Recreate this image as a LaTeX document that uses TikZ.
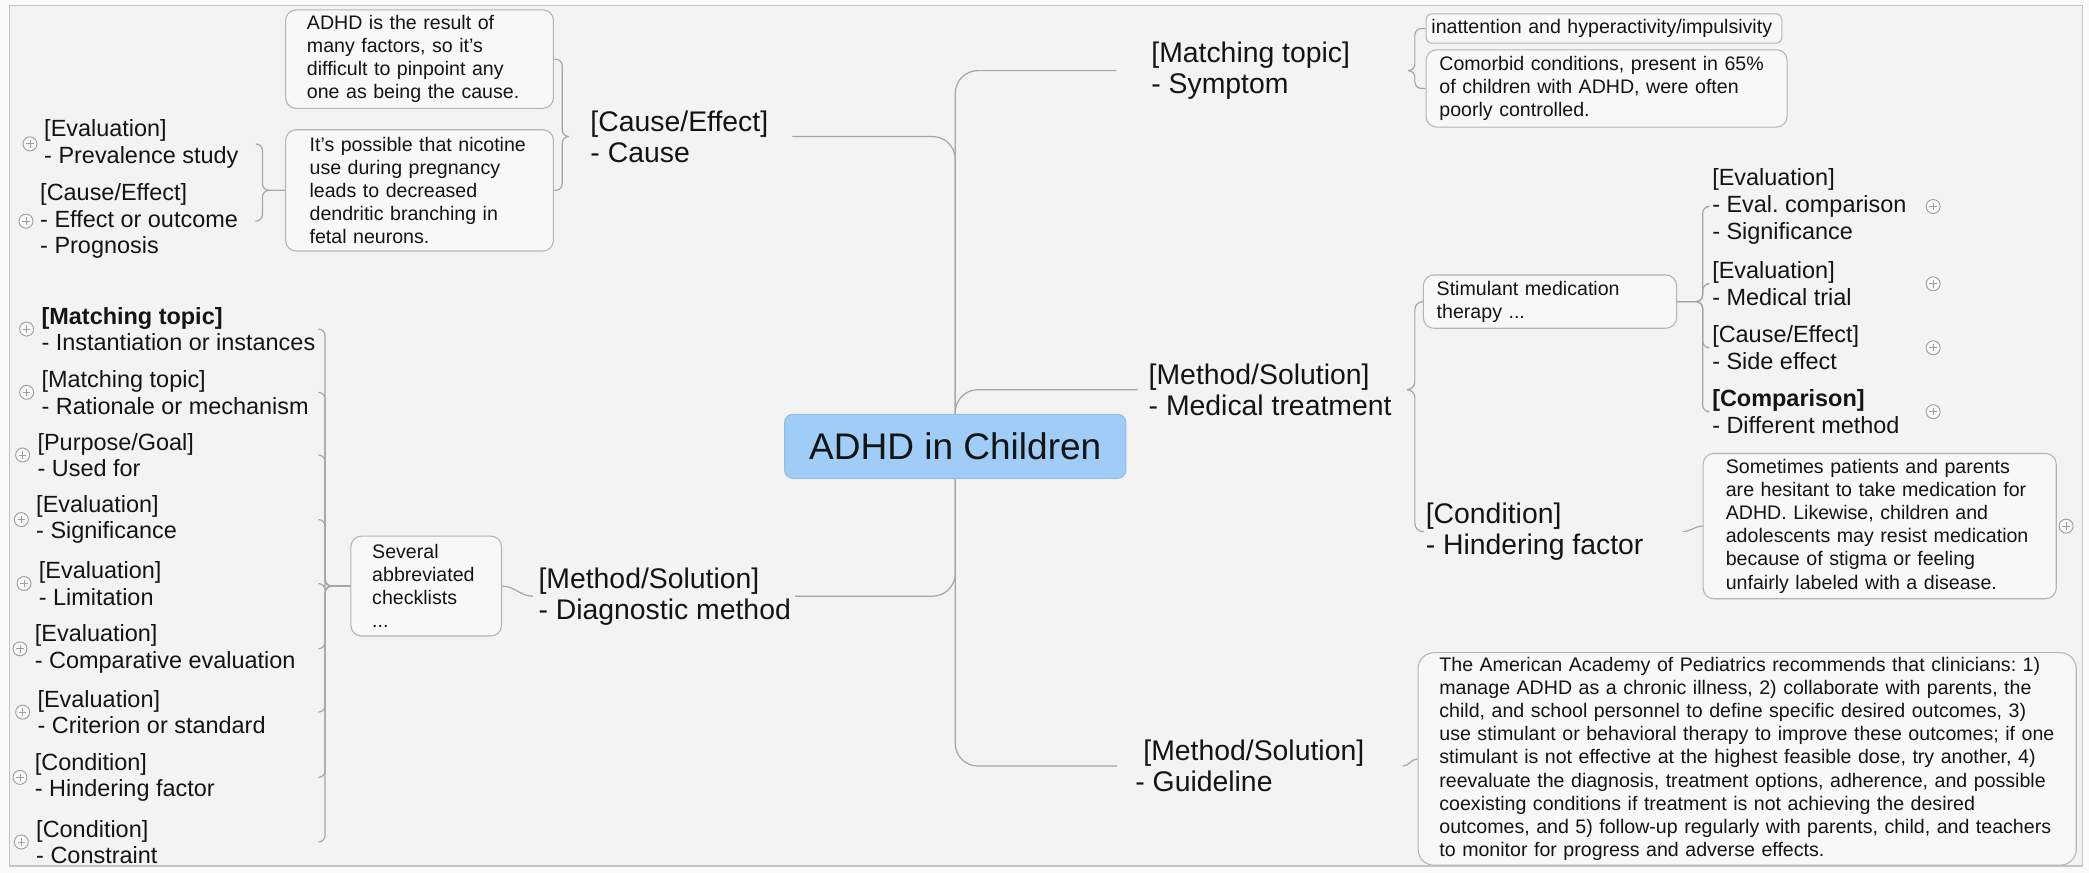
\documentclass[tikz,border=0pt]{standalone}
\usepackage{fontspec}
\setmainfont{Liberation Sans}
\frenchspacing
\usetikzlibrary{calc}
\definecolor{bgc}{HTML}{F3F3F3}
\definecolor{outc}{HTML}{FAFAFA}
\definecolor{framec}{HTML}{C4C4C4}
\definecolor{linec}{HTML}{A6A6A6}
\definecolor{boxline}{HTML}{B4B4B4}
\definecolor{boxfill}{HTML}{F8F8F8}
\definecolor{rootfill}{HTML}{A0CDF7}
\definecolor{rootline}{HTML}{8DBDE9}
\definecolor{txt}{HTML}{141414}
\definecolor{plusc}{HTML}{9E9E9E}
\newcommand\mmRoot{\fontsize{27.8pt}{33pt}\selectfont}
\newcommand\mmBig{\fontsize{21.3pt}{23.3pt}\selectfont}
\newcommand\mmMid{\fontsize{17.6pt}{20pt}\selectfont}
\newcommand\mmSmall{\fontsize{14.7pt}{17.4pt}\selectfont}
\pgfdeclarelayer{bglayer}
\pgfdeclarelayer{linelayer}
\pgfsetlayers{bglayer,linelayer,main}
\begin{document}
\begin{tikzpicture}[x=1pt,y=-1pt,text=txt,
  root/.style={draw=rootline, fill=rootfill, line width=0.8pt, rounded corners=6pt, minimum width=256pt, minimum height=48pt, inner sep=0pt, font=\mmRoot},
  lone/.style={anchor=west, inner sep=0pt, align=left, font=\mmBig},
  lthree/.style={anchor=west, inner sep=0pt, align=left, font=\mmMid},
  box/.style={draw=boxline, fill=boxfill, line width=0.8pt, rounded corners=8pt, anchor=north west, align=left, inner ysep=0pt, font=\mmSmall},
  conn/.style={draw=linec, line width=0.9pt},
  plus/.style={circle, draw=plusc, fill=boxfill, line width=0.7pt, minimum size=10.5pt, inner sep=0pt,
    path picture={\draw[plusc, line width=0.7pt]
      ([xshift=-2.8pt]path picture bounding box.center) -- ([xshift=2.8pt]path picture bounding box.center)
      ([yshift=-2.8pt]path picture bounding box.center) -- ([yshift=2.8pt]path picture bounding box.center);}}
]
\useasboundingbox (0,0) rectangle (1568,655);
\begin{pgfonlayer}{bglayer}
\fill[outc] (0,0) rectangle (1568,655);
\draw[framec, fill=bgc, line width=1pt] (7,4) rectangle (1563,650);
\end{pgfonlayer}

% central topic
\node[root] (root) at (717,335) {ADHD in Children};

% main branches
\node[lone] (cause) at (443,102.5) {[Cause/Effect]\\- Cause};
\node[lone] (symp) at (864,53) {[Matching topic]\\- Symptom};
\node[lone] (med) at (862,292.5) {[Method/Solution]\\- Medical treatment};
\node[lone] (diag) at (404,447.5) {[Method/Solution]\\- Diagnostic method};
\node[lone] (guide) at (852,575) {\hspace*{6pt}[Method/Solution]\\- Guideline};
\node[lone] (cond) at (1070,399) {[Condition]\\- Hindering factor};

% text boxes
\node[box, inner xsep=16pt, text width=169pt, minimum height=74pt] (bA) at (214,7)
  {ADHD is the result of\\many factors, so it's\\difficult to pinpoint any\\one as being the cause.};
\node[box, inner xsep=18pt, text width=165pt, minimum height=91pt] (bB) at (214,97)
  {It's possible that nicotine\\use during pregnancy\\leads to decreased\\dendritic branching in\\fetal neurons.};
\node[box, inner xsep=16pt, text width=81pt, minimum height=75pt] (chk) at (263,402)
  {Several\\abbreviated\\checklists\\...};
\node[box, inner xsep=4pt, text width=259pt, minimum height=22pt, rounded corners=4pt] (s1) at (1070,10)
  {inattention and hyperactivity/impulsivity};
\node[box, inner xsep=10pt, text width=251pt, minimum height=58pt] (s2) at (1070,37)
  {Comorbid conditions, present in 65\%\\of children with ADHD, were often\\poorly controlled.};
\node[box, inner xsep=10pt, text width=170pt, minimum height=40pt] (stim) at (1068,206)
  {Stimulant medication\\therapy ...};
\node[box, inner xsep=17pt, text width=231pt, minimum height=109pt] (some) at (1278,340)
  {Sometimes patients and parents\\are hesitant to take medication for\\ADHD. Likewise, children and\\adolescents may resist medication\\because of stigma or feeling\\unfairly labeled with a disease.};
\node[box, inner xsep=16pt, text width=462pt, minimum height=159.5pt, rounded corners=12pt] (gbox) at (1064,489.5)
  {The American Academy of Pediatrics recommends that clinicians: 1)\\manage ADHD as a chronic illness, 2) collaborate with parents, the\\child, and school personnel to define specific desired outcomes, 3)\\use stimulant or behavioral therapy to improve these outcomes; if one\\stimulant is not effective at the highest feasible dose, try another, 4)\\reevaluate the diagnosis, treatment options, adherence, and possible\\coexisting conditions if treatment is not achieving the desired\\outcomes, and 5) follow-up regularly with parents, child, and teachers\\to monitor for progress and adverse effects.};

% children of box B
\node[lthree] (e1) at (33,108) {[Evaluation]\\- Prevalence study};
\node[lthree] (e2) at (30,166) {[Cause/Effect]\\- Effect or outcome\\- Prognosis};

% left column
\node[lthree] (c1) at (31,247) {\textbf{[Matching topic]}\\- Instantiation or instances};
\node[lthree] (c2) at (31,294.5) {[Matching topic]\\- Rationale or mechanism};
\node[lthree] (c3) at (28,341.5) {[Purpose/Goal]\\- Used for};
\node[lthree] (c4) at (27,390) {[Evaluation]\\- Significance};
\node[lthree] (c5) at (29,438) {[Evaluation]\\- Limitation};
\node[lthree] (c6) at (26,487) {[Evaluation]\\- Comparative evaluation};
\node[lthree] (c7) at (28,534.5) {[Evaluation]\\- Criterion or standard};
\node[lthree] (c8) at (26,583.5) {[Condition]\\- Hindering factor};
\node[lthree] (c9) at (27,632) {[Condition]\\- Constraint};

% right column
\node[lthree] (r1) at (1285,155) {[Evaluation]\\- Eval. comparison\\- Significance};
\node[lthree] (r2) at (1285,213) {[Evaluation]\\- Medical trial};
\node[lthree] (r3) at (1285,261) {[Cause/Effect]\\- Side effect};
\node[lthree] (r4) at (1285,309) {\textbf{[Comparison]}\\- Different method};

% column coordinates
\coordinate (lend) at (239,0);
\coordinate (sst) at (1059,0);
\coordinate (sspine) at (1062,0);
\coordinate (mst) at (1058,0);
\coordinate (mspine) at (1062,0);
\coordinate (rspine) at (1278,0);
\coordinate (cst) at (1263,0);
\coordinate (gst) at (1053,0);
\coordinate (pcol) at (1451,0);

% plus icons
\foreach \c in {c1,c2,c3,c4,c5,c6,c7,c8,c9}
  \node[plus] (p\c) at ([xshift=-11pt]\c.west) {};
\node[plus] (pe1) at ([xshift=-10.5pt]e1.west) {};
\node[plus] (pe2) at ([xshift=-10.5pt]e2.west) {};
\foreach \c in {r1,r2,r3,r4}
  \node[plus] (p\c) at (\c.west -| pcol) {};
\node[plus] (psome) at ([xshift=7pt]some.east) {};

% connectors
\begin{pgfonlayer}{linelayer}
\draw[conn, rounded corners=17pt] (root.center) |- ([xshift=-26pt]symp.west);
\draw[conn, rounded corners=17pt] (root.center) |- ([xshift=18pt]cause.east);
\draw[conn, rounded corners=17pt] (root.center) |- ([xshift=-8pt]med.west);
\draw[conn, rounded corners=17pt] (root.center) |- ([xshift=3pt]diag.east);
\draw[conn, rounded corners=17pt] (root.center) |- ([xshift=-13.5pt]guide.west);

\draw[conn, rounded corners=5pt] ([xshift=-16pt]cause.west) -- ++(-5,0) |- (bA.east);
\draw[conn, rounded corners=5pt] ([xshift=-16pt]cause.west) -- ++(-5,0) |- (bB.east);

\draw[conn, rounded corners=5pt] (bB.west) -- ++(-17,0) |- ([xshift=13pt]e1.east);
\draw[conn, rounded corners=5pt] (bB.west) -- ++(-17,0) |- ([xshift=13pt]e2.east);

\draw[conn] ([xshift=-4pt]diag.west) to[out=180,in=0] (chk.east);
\foreach \c in {c1,c2,c3,c4,c5,c6,c7,c8,c9}
  \draw[conn, rounded corners=5pt] (chk.west) -- ++(-19,0) |- (\c.west -| lend);

\draw[conn, rounded corners=5pt] (symp.west -| sst) -- (symp.west -| sspine) |- (s1.west);
\draw[conn, rounded corners=5pt] (symp.west -| sst) -- (symp.west -| sspine) |- (s2.west);

\draw[conn, rounded corners=6pt] (med.west -| mst) -- (med.west -| mspine) |- (stim.west);
\draw[conn, rounded corners=6pt] (med.west -| mst) -- (med.west -| mspine) |- ([xshift=-1pt]cond.west);

\foreach \c in {r1,r2,r3,r4}
  \draw[conn, rounded corners=5pt] (stim.east) -- (stim.east -| rspine) |- ([xshift=-4pt]\c.west);

\draw[conn] (cond.west -| cst) to[out=0,in=180] (some.west);
\draw[conn] (guide.west -| gst) to[out=0,in=180] (gbox.west);
\end{pgfonlayer}
\end{tikzpicture}
\end{document}
